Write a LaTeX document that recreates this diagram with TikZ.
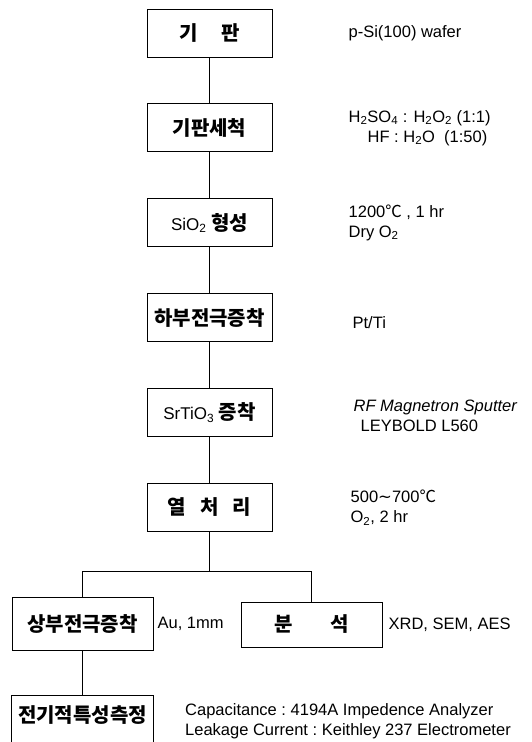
\documentclass[tikz,border=0pt]{standalone}
\usepackage{fontspec}
\setmainfont{Liberation Sans}
\newfontfamily\kr{Noto Sans CJK KR}
\newfontfamily\sym{DejaVu Sans}
\usetikzlibrary{positioning}
\newcommand{\celsius}{{\kr ℃}}
\newcommand{\wave}{{\sym ∼}}

\begin{document}
\begin{tikzpicture}[x=1pt, y=-1pt,
  every node/.style={inner sep=2pt},
  stepbox/.style={draw, line width=0.9pt, minimum width=125pt, minimum height=48pt,
                  inner sep=1pt, font=\kr\bfseries\fontsize{20}{22}\selectfont},
  subbox/.style={stepbox, minimum width=141pt},
  ann/.style={font=\fontsize{16.5}{20}\selectfont, align=left, inner sep=0pt},
  link/.style={line width=0.9pt}]
\clip (0,0) rectangle (532,742);
\node[stepbox] (sub) at (209.5,33) {기\hspace{24pt}판};
\node[stepbox, below=46pt of sub] (clean) {기판세척};
\node[stepbox, below=46pt of clean] (oxide)
  {{\normalfont\fontsize{17}{21}\selectfont SiO\textsubscript{2}} 형성};
\node[stepbox, below=46pt of oxide] (bottom) {하부전극증착};
\node[stepbox, below=46pt of bottom] (sto)
  {{\normalfont\fontsize{17}{21}\selectfont SrTiO\textsubscript{3}} 증착};
\node[stepbox, below=46pt of sto] (heat) {열\hspace{14pt}처\hspace{14pt}리};
\node[subbox, minimum height=53pt] (topel) at (82.5,624) {상부전극증착};
\node[subbox, minimum height=45pt] (anal) at (311.5,624.5) {분\hspace{38pt}석};
\node[subbox, minimum width=142pt, minimum height=60pt, text depth=22pt] (meas)
  at (82.5,725) {전기적특성측정};

\node[ann, right=76pt of sub] (asub) {p-Si(100)\ wafer};
\node[ann, right=76pt of clean] (aclean)
  {H\textsubscript{2}SO\textsubscript{4}\ : H\textsubscript{2}O\textsubscript{2}\ (1:1)\\
   \hspace*{19pt}HF\ : H\textsubscript{2}O\ \ (1:50)};
\node[ann, right=76pt of oxide] (aoxide) {1200\celsius\ , 1 hr\\Dry O\textsubscript{2}};
\node[ann, right=80pt of bottom, yshift=-5pt] (abottom) {Pt/Ti};
\node[ann, right=81pt of sto, yshift=-3pt] (asto)
  {\textit{RF Magnetron Sputter}\\\hspace*{7pt}LEYBOLD\ L560};
\node[ann, right=78pt of heat] (aheat) {500\wave700\celsius\\O\textsubscript{2}, 2 hr};
\node[ann, right=4pt of topel] (atopel) {Au,\ 1mm};
\node[ann, right=6pt of anal] (aanal) {XRD,\ SEM,\ AES};
\node[ann, anchor=west] (ameas) at (185,721)
  {Capacitance\ :\ 4194A\ Impedence\ Analyzer\\
   Leakage\ Current\ :\ Keithley\ 237\ Electrometer};

\draw[link] (sub) -- (clean);
\draw[link] (clean) -- (oxide);
\draw[link] (oxide) -- (bottom);
\draw[link] (bottom) -- (sto);
\draw[link] (sto) -- (heat);
\coordinate[below=39pt of heat.south] (fork);
\draw[link] (heat) -- (fork);
\draw[link] (fork) -| (topel);
\draw[link] (fork) -| (anal);
\draw[link] (topel) -- (meas);
\end{tikzpicture}
\end{document}
